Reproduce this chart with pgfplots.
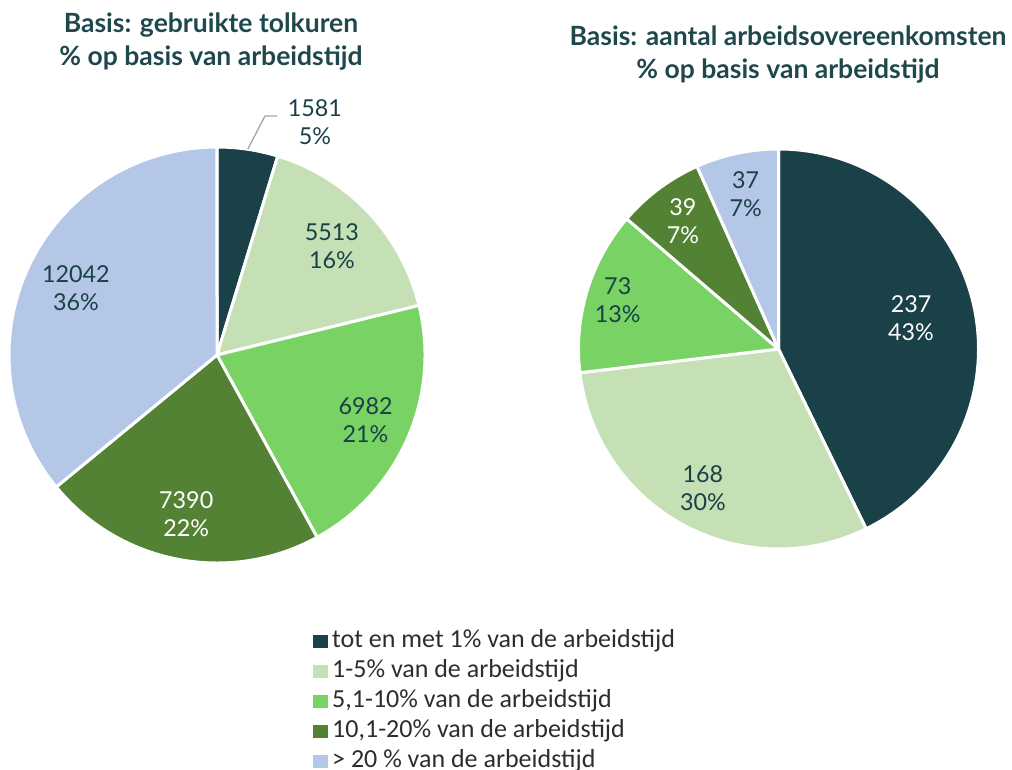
\documentclass[border=0pt]{standalone}
\usepackage{fontspec}
\setmainfont{Lato}
\newfontfamily\legfont{Carlito}
\usepackage{pgfplots}
\usepackage{pgfplotstable}
\pgfplotsset{compat=1.18}
\definecolor{c0}{RGB}{26,64,72}
\definecolor{c1}{RGB}{197,224,180}
\definecolor{c2}{RGB}{120,211,100}
\definecolor{c3}{RGB}{84,130,53}
\definecolor{c4}{RGB}{180,199,231}
\definecolor{dark}{RGB}{26,64,72}
\definecolor{ttl}{RGB}{30,72,76}
\definecolor{legtxt}{RGB}{45,45,45}

% value, label radius (fraction of R), angle shift of label, label text colour
\pgfplotstableread{
value lr shift txt
1581  1.215 -14.3 dark
5513  0.76  0 dark
6982  0.78  0 dark
7390  0.78  0 white
12042 0.75  0 dark
}\leftdata
\pgfplotstableread{
value lr shift txt
237 0.68 0 white
168 0.79 0 dark
73  0.84 0 dark
39  0.80 0 white
37  0.79 0 dark
}\rightdata

\newcommand\computepie[2]{%
  \gdef\pietotal{0}%
  \foreach \i in {0,...,4}{%
    \pgfplotstablegetelem{\i}{value}\of#1%
    \xdef\pietotal{\fpeval{\pietotal+\pgfplotsretval}}%
  }%
  \gdef\piecum{0}%
  \foreach \i in {0,...,4}{%
    \pgfplotstablegetelem{\i}{value}\of#1\let\v\pgfplotsretval
    \pgfplotstablegetelem{\i}{lr}\of#1\let\lr\pgfplotsretval
    \pgfplotstablegetelem{\i}{shift}\of#1\let\sh\pgfplotsretval
    \pgfplotstablegetelem{\i}{txt}\of#1\let\tc\pgfplotsretval
    \expandafter\xdef\csname#2v\i\endcsname{\v}%
    \expandafter\xdef\csname#2a\i\endcsname{\fpeval{round(90-360*\piecum/\pietotal,4)}}%
    \xdef\piecum{\fpeval{\piecum+\v}}%
    \expandafter\xdef\csname#2b\i\endcsname{\fpeval{round(90-360*\piecum/\pietotal,4)}}%
    \expandafter\xdef\csname#2m\i\endcsname{\fpeval{round((\csname#2a\i\endcsname+\csname#2b\i\endcsname)/2,4)}}%
    \expandafter\xdef\csname#2p\i\endcsname{\fpeval{round(100*\v/\pietotal)}}%
    \expandafter\xdef\csname#2x\i\endcsname{\fpeval{round(\lr*cosd(\csname#2m\i\endcsname+\sh),5)}}%
    \expandafter\xdef\csname#2y\i\endcsname{\fpeval{round(\lr*sind(\csname#2m\i\endcsname+\sh),5)}}%
    \expandafter\xdef\csname#2ca\i\endcsname{\fpeval{round(cosd(\csname#2a\i\endcsname),5)}}%
    \expandafter\xdef\csname#2sa\i\endcsname{\fpeval{round(sind(\csname#2a\i\endcsname),5)}}%
    \expandafter\xdef\csname#2cm\i\endcsname{\fpeval{round(cosd(\csname#2m\i\endcsname),5)}}%
    \expandafter\xdef\csname#2sm\i\endcsname{\fpeval{round(sind(\csname#2m\i\endcsname),5)}}%
    \expandafter\xdef\csname#2t\i\endcsname{\tc}%
  }%
}
\computepie{\leftdata}{L}
\computepie{\rightdata}{R}
\edef\leadA{\csname Lcm0\endcsname}
\edef\leadB{\csname Lsm0\endcsname}
\edef\leadC{\fpeval{\leadA+0.083}}

\newcommand\lblfont{\fontsize{23.3}{28}\selectfont}
\newcommand\slice[3]{%
  \edef\tmp{\noexpand\fill[c#2, draw=white, line width=3pt, line join=round]
    (axis cs:0,0) -- (axis cs:\csname#1ca#2\endcsname,\csname#1sa#2\endcsname)
    arc[start angle=\csname#1a#2\endcsname, end angle=\csname#1b#2\endcsname, radius=#3pt] -- cycle;}\tmp}
\newcommand\slicelabel[2]{%
  \edef\tmp{\noexpand\node[text=\csname#1t#2\endcsname, align=center, inner sep=0pt, font=\noexpand\lblfont]
    at (axis cs:\csname#1x#2\endcsname,\csname#1y#2\endcsname)
    {\csname#1v#2\endcsname\noexpand\\\csname#1p#2\endcsname\noexpand\%};}\tmp}

\begin{document}
\begin{tikzpicture}
\useasboundingbox (0,0) rectangle (1012pt,769pt);
\begin{axis}[
  at={(217pt,414pt)}, anchor=center,
  hide axis, scale only axis, width=416pt, height=416pt,
  xmin=-1, xmax=1, ymin=-1, ymax=1, clip=false,
  legend style={draw=none, fill=none, inner sep=0pt,
    at={(0.7308,-0.1587)}, anchor=north west,
    font=\legfont\fontsize{26}{30}\selectfont, text=legtxt,
    nodes={inner sep=0pt, text height=18pt, text depth=6pt},
    row sep=6pt, column sep=4pt},
  legend cell align=left,
  legend image code/.code={\path[#1, draw=none] (0pt,-6.5pt) rectangle (15pt,6.5pt);},
]
\pgfplotsinvokeforeach{0,...,4}{\slice{L}{#1}{208}}
\pgfplotsinvokeforeach{0,...,4}{\slicelabel{L}{#1}}
\draw[gray!70, line width=1.3pt]
  (axis cs:\leadA,\leadB) -- (axis cs:\leadC,1.149) -- (axis cs:0.288,1.149);
\addlegendimage{fill=c0}\addlegendentry{tot en met 1\% van de arbeidstijd}
\addlegendimage{fill=c1}\addlegendentry{1-5\% van de arbeidstijd}
\addlegendimage{fill=c2}\addlegendentry{5,1-10\% van de arbeidstijd}
\addlegendimage{fill=c3}\addlegendentry{10,1-20\% van de arbeidstijd}
\addlegendimage{fill=c4}\addlegendentry{> 20 \% van de arbeidstijd}
\end{axis}
\begin{axis}[
  at={(778.5pt,420pt)}, anchor=center,
  hide axis, scale only axis, width=400pt, height=400pt,
  xmin=-1, xmax=1, ymin=-1, ymax=1, clip=false,
]
\pgfplotsinvokeforeach{0,...,4}{\slice{R}{#1}{200}}
\pgfplotsinvokeforeach{0,...,4}{\slicelabel{R}{#1}}
\end{axis}
\node[font=\bfseries\fontsize{26.5}{33}\selectfont, text=ttl, align=center] at (211pt,727pt)
  {Basis: gebruikte tolkuren\\\% op basis van arbeidstijd};
\node[font=\bfseries\fontsize{26.5}{33}\selectfont, text=ttl, align=center] at (788pt,714pt)
  {Basis: aantal arbeidsovereenkomsten\\\% op basis van arbeidstijd};
\end{tikzpicture}
\end{document}
